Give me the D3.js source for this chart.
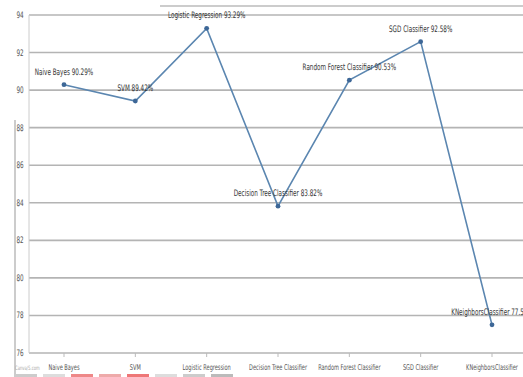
<!DOCTYPE html>
<html>
<head>
<meta charset="utf-8">
<script src="https://cdn.jsdelivr.net/npm/d3@7"></script>
<style>
  body { margin: 0; background: #fff; }
  text { font-family: "DejaVu Sans Condensed", "Liberation Sans Narrow", "Roboto", sans-serif; }
</style>
</head>
<body>
<svg id="svg"></svg>
<script>
var width = 523, height = 377;

// chart values
var models = ["Naive Bayes", "SVM", "Logistic Regression", "Decision Tree Classifier",
              "Random Forest Classifier", "SGD Classifier", "KNeighborsClassifier"];
var accuracy = [90.29, 89.42, 93.29, 83.82, 90.53, 92.58, 77.5];
var pointLabels = ["Naive Bayes 90.29%", "SVM 89.42%", "Logistic Regression 93.29%",
                   "Decision Tree Classifier 83.82%", "Random Forest Classifier 90.53%",
                   "SGD Classifier 92.58%", "KNeighborsClassifier 77.58%"];
var yTicks = [76, 78, 80, 82, 84, 86, 88, 90, 92, 94];

// the original font is a narrow one, squeeze text horizontally
var squeeze = 0.7;
function placed(px, py) { return "translate(" + px + "," + py + ") scale(" + squeeze + ",1)"; }

var svg = d3.select("#svg").attr("width", width).attr("height", height);

var x = d3.scalePoint().domain(models).range([64, 492]);
var y = d3.scaleLinear().domain([76, 94]).range([353, 15]);

// faint frame bits
svg.append("line").attr("x1", 160).attr("x2", width).attr("y1", 6).attr("y2", 6)
  .attr("stroke", "#bbb").attr("stroke-width", 1.5);
svg.append("line").attr("x1", 15).attr("x2", 15).attr("y1", 120).attr("y2", height)
  .attr("stroke", "#999").attr("stroke-width", 1);

// grid lines
svg.append("g").selectAll("line").data(yTicks).enter().append("line")
  .attr("x1", 29).attr("x2", width)
  .attr("y1", function(d) { return y(d); })
  .attr("y2", function(d) { return y(d); })
  .attr("stroke", "#b4b4b4").attr("stroke-width", 1.6);

// y axis line
svg.append("line").attr("x1", 29).attr("x2", 29).attr("y1", y(94)).attr("y2", y(76))
  .attr("stroke", "#ccc").attr("stroke-width", 1);

// y tick labels
svg.append("g").selectAll("text").data(yTicks).enter().append("text")
  .attr("transform", function(d) { return placed(20, y(d) + 3); })
  .attr("text-anchor", "middle")
  .attr("font-size", 9).attr("fill", "#555")
  .text(function(d) { return d; });

// x ticks + labels
var xg = svg.append("g");
xg.selectAll("line").data(models).enter().append("line")
  .attr("x1", function(d) { return x(d); }).attr("x2", function(d) { return x(d); })
  .attr("y1", 353).attr("y2", 357)
  .attr("stroke", "#bbb");
xg.selectAll("text").data(models).enter().append("text")
  .attr("transform", function(d) { return placed(x(d), 370); })
  .attr("text-anchor", "middle")
  .attr("font-size", 8).attr("fill", "#555")
  .text(function(d) { return d; });

// series line
var pts = models.map(function(m, i) { return { name: m, v: accuracy[i], label: pointLabels[i] }; });
var line = d3.line().x(function(d) { return x(d.name); }).y(function(d) { return y(d.v); });

svg.append("path").datum(pts)
  .attr("d", line)
  .attr("fill", "none")
  .attr("stroke", "#5b86b0")
  .attr("stroke-width", 1.6);

svg.append("g").selectAll("circle").data(pts).enter().append("circle")
  .attr("cx", function(d) { return x(d.name); })
  .attr("cy", function(d) { return y(d.v); })
  .attr("r", 2.4)
  .attr("fill", "#3d6797");

// point labels
svg.append("g").selectAll("text").data(pts).enter().append("text")
  .attr("transform", function(d) { return placed(x(d.name), y(d.v) - 10); })
  .attr("text-anchor", "middle")
  .attr("font-size", 9).attr("fill", "#333")
  .text(function(d) { return d.label; });

// little watermark + strip at the bottom
svg.append("text").attr("transform", placed(15, 370)).attr("font-size", 6).attr("fill", "#aaa")
  .text("Canva/S.com");
var strip = ["#ccc", "#ddd", "#e88", "#eaa", "#e77", "#ddd", "#ccc", "#bbb"];
svg.append("g").selectAll("rect").data(strip).enter().append("rect")
  .attr("x", function(d, i) { return 15 + i * 28; }).attr("y", 374)
  .attr("width", 22).attr("height", 3)
  .attr("fill", function(d) { return d; });
</script>
</body>
</html>
